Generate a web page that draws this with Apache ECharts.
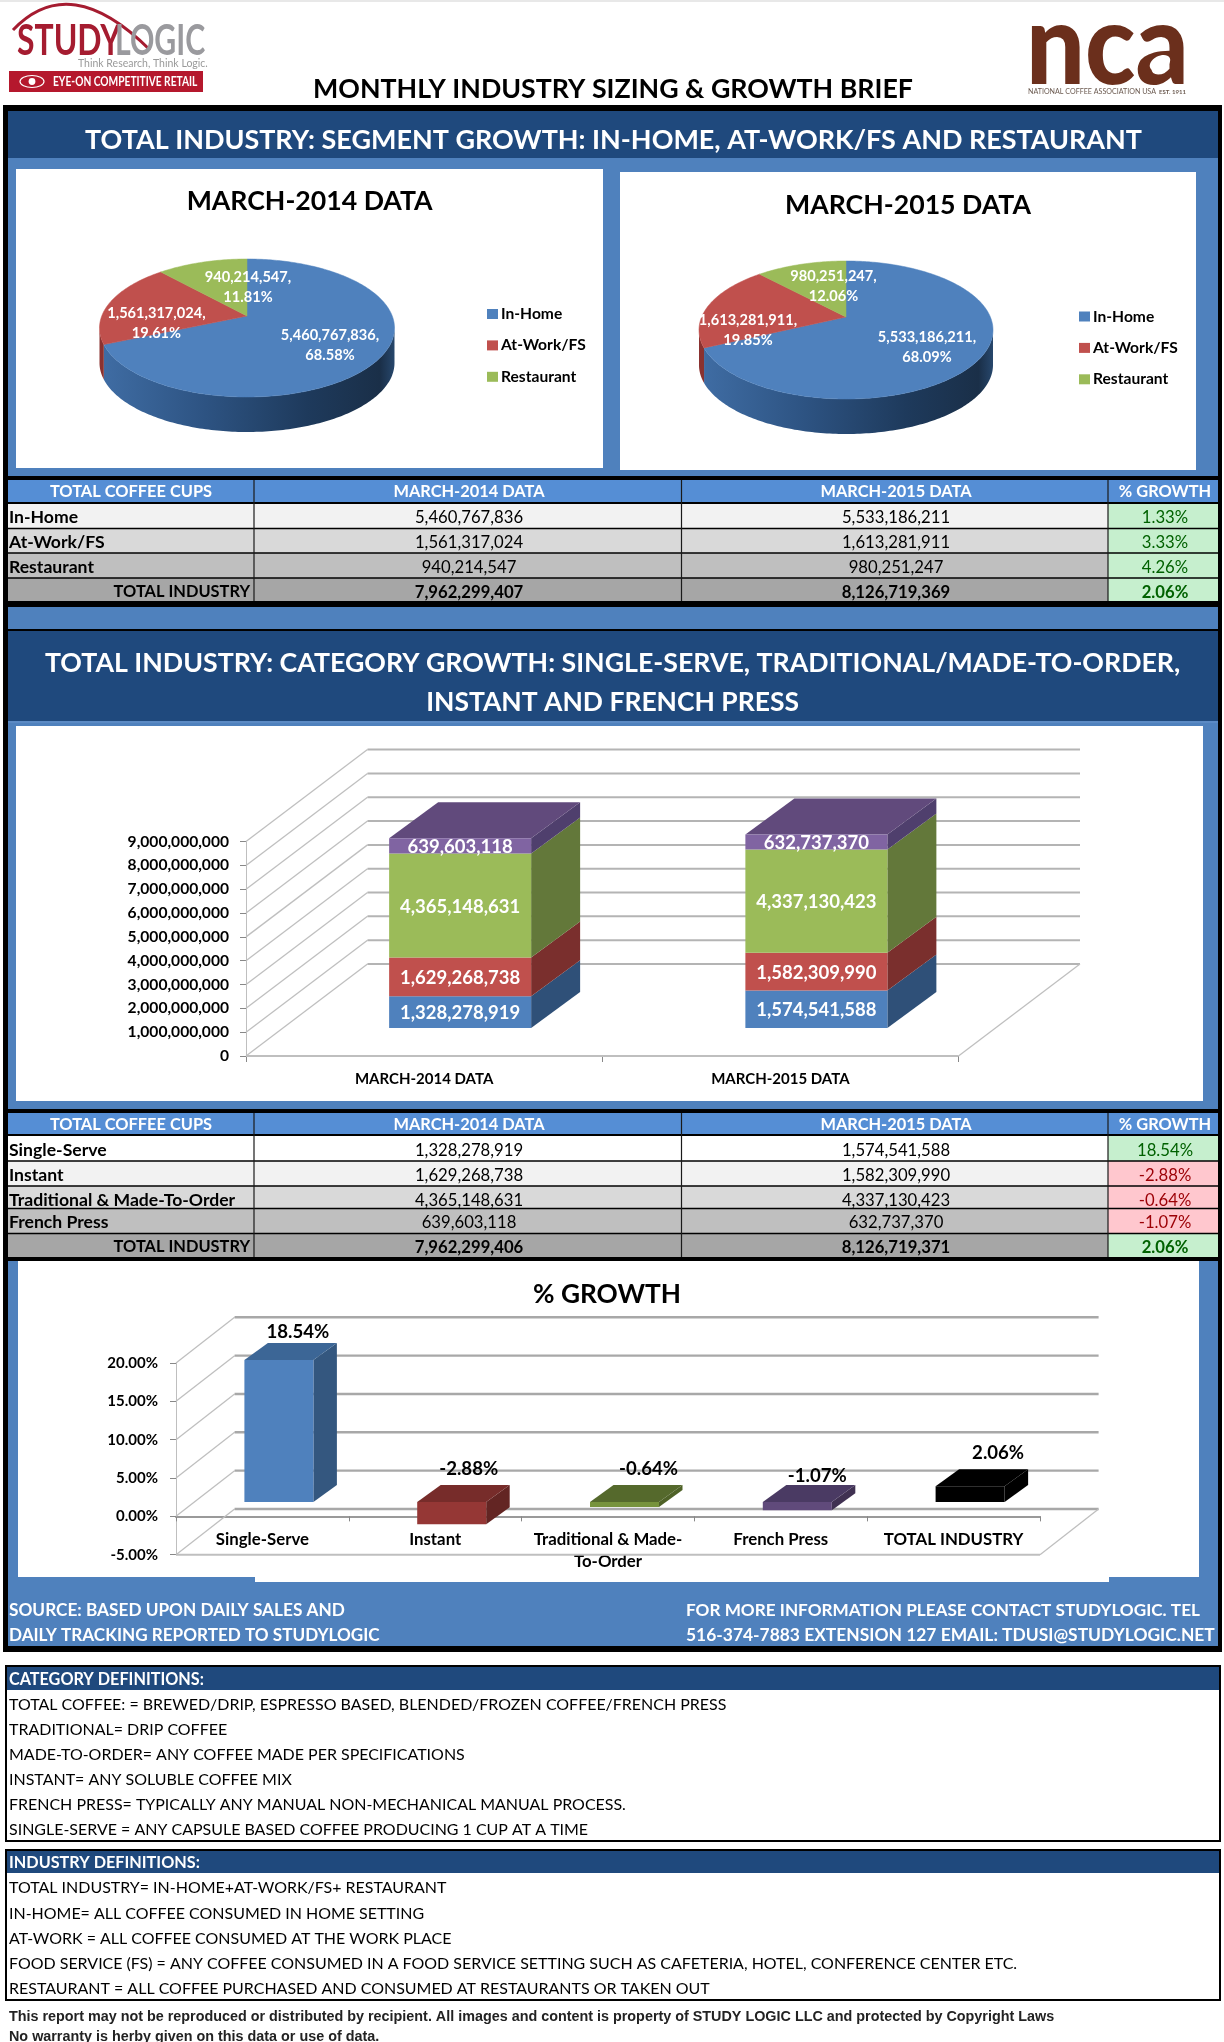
<!DOCTYPE html>
<html><head><meta charset="utf-8">
<style>html,body{margin:0;padding:0;background:#fff;overflow:hidden}#c{width:1224px;height:2042px}</style>
<script src="https://cdn.jsdelivr.net/npm/echarts@6/dist/echarts.min.js"></script>
</head><body><div id="c"></div>
<script>
// ---------- data ----------
const segmentNames = ['In-Home', 'At-Work/FS', 'Restaurant'];
const segments2014 = [5460767836, 1561317024, 940214547];
const segments2015 = [5533186211, 1613281911, 980251247];
const segmentPct2014 = ['68.58%', '19.61%', '11.81%'];
const segmentPct2015 = ['68.09%', '19.85%', '12.06%'];
const segmentGrowth = ['1.33%', '3.33%', '4.26%'];
const segmentTotals = [7962299407, 8126719369, '2.06%'];

const periods = ['MARCH-2014 DATA', 'MARCH-2015 DATA'];
const categoryNames = ['Single-Serve', 'Instant', 'Traditional & Made-To-Order', 'French Press'];
const categories2014 = [1328278919, 1629268738, 4365148631, 639603118];
const categories2015 = [1574541588, 1582309990, 4337130423, 632737370];
const categoryGrowth = ['18.54%', '-2.88%', '-0.64%', '-1.07%'];
const categoryTotals = [7962299406, 8126719371, '2.06%'];

const growthNames = ['Single-Serve', 'Instant', 'Traditional & Made-To-Order', 'French Press', 'TOTAL INDUSTRY'];
const growthValues = [18.54, -2.88, -0.64, -1.07, 2.06];

const categoryDefs = ['TOTAL COFFEE: = BREWED/DRIP, ESPRESSO BASED, BLENDED/FROZEN COFFEE/FRENCH PRESS','TRADITIONAL= DRIP COFFEE','MADE-TO-ORDER= ANY COFFEE MADE PER SPECIFICATIONS','INSTANT= ANY SOLUBLE COFFEE MIX','FRENCH PRESS= TYPICALLY ANY MANUAL NON-MECHANICAL MANUAL PROCESS.','SINGLE-SERVE = ANY CAPSULE BASED COFFEE PRODUCING 1 CUP AT A TIME'];
const industryDefs = ['TOTAL INDUSTRY= IN-HOME+AT-WORK/FS+ RESTAURANT','IN-HOME= ALL COFFEE CONSUMED IN HOME SETTING','AT-WORK = ALL COFFEE CONSUMED AT THE WORK PLACE','FOOD SERVICE (FS) = ANY COFFEE CONSUMED IN A FOOD SERVICE SETTING SUCH AS CAFETERIA, HOTEL, CONFERENCE CENTER ETC.','RESTAURANT = ALL COFFEE PURCHASED AND CONSUMED AT RESTAURANTS OR TAKEN OUT'];

// ---------- style helpers ----------
const FONT = 'Lato';
const NAVY = '#1F497D', BLUE = '#4F81BD', HEAD = '#558ED5';
const num = v => typeof v === 'number' ? v.toLocaleString('en-US') : v;
const mctx = document.createElement('canvas').getContext('2d');
function fit(text, width, weight, family) {
  mctx.font = (weight || 'normal') + ' 100px ' + (family || FONT);
  return 100 * width / mctx.measureText(text).width;
}
const els = [];
function rect(x, y, w, h, fill) { els.push({type:'rect', shape:{x,y,width:w,height:h}, style:{fill}, silent:true}); }
function txt(text, x, y, size, o) {
  o = o || {};
  const fam = o.family || FONT;
  els.push({type:'text', x, y:y+1.2, scaleX:o.sx||1, scaleY:o.sy||1, silent:true, style:{text, fill:o.fill||'#000',
    font:(o.weight||'normal')+' '+size.toFixed(2)+'px "'+fam+'"', align:o.align||'left', verticalAlign:'middle'}});
}
function fitTxt(text, x, y, w, o) { o = o||{}; txt(text, x, y, fit(text, w, o.weight, o.family), o); }

// ---------- page furniture ----------
rect(0,0,1224,2042,'#fff'); rect(0,0,1224,2,'#e8e8e8');
// StudyLogic logo
els.push({type:'bezierCurve', shape:{x1:13,y1:30,cpx1:70,cpy1:-30,x2:150,y2:50}, style:{stroke:'#a51c30',lineWidth:3,fill:null}, silent:true});
txt('STUDY', 17, 40, 42, {weight:'bold', fill:'#a51c30', sx:0.76});
txt('LOGIC', 115, 40, 42, {weight:'bold', fill:'#9a9a9e', sx:0.72});
txt('Think Research, Think Logic.', 78, 62.5, 10.5, {fill:'#9a9a9a'});
rect(9,71,194,21,'#b5182d');
els.push({type:'ellipse', shape:{cx:32,cy:81.5,rx:12,ry:6}, style:{fill:null,stroke:'#fff',lineWidth:1.2}, silent:true});
els.push({type:'circle', shape:{cx:32,cy:81.5,r:3.4}, style:{fill:'#fff'}, silent:true});
txt('EYE-ON COMPETITIVE RETAIL', 53, 81, fit('EYE-ON COMPETITIVE RETAIL', 185, 'bold'), {weight:'bold', fill:'#fff', sx:0.78});
// NCA logo
txt('nca', 1026, 47, 112, {weight:'900', fill:'#6b2f1c', sx:0.93});
els.push({type:'ellipse', shape:{cx:1160,cy:63,rx:11,ry:7}, rotation:0.5, originX:1160, originY:63, style:{fill:'#fff'}, silent:true});
fitTxt('NATIONAL COFFEE ASSOCIATION USA', 1028, 91, 128, {fill:'#6b5a50'});
fitTxt('EST. 1911', 1159, 91, 27, {weight:'bold', fill:'#6b5a50'});

fitTxt('MONTHLY INDUSTRY SIZING & GROWTH BRIEF', 613, 88, 600, {weight:'bold', align:'center'});

// outer frame and bands
rect(3,105,1219,1547,'#000');
rect(8,111,1210,47,NAVY);
rect(8,158,1210,318,BLUE);
fitTxt('TOTAL INDUSTRY: SEGMENT GROWTH: IN-HOME, AT-WORK/FS AND RESTAURANT', 613.5, 139, 1057, {weight:'bold', align:'center', fill:'#fff'});
rect(16,169,587,299,'#fff'); rect(620,172,576,298,'#fff');
fitTxt(periods[0], 309.6, 200.5, 246, {weight:'bold', align:'center'});
fitTxt(periods[1], 908, 204, 246, {weight:'bold', align:'center'});

rect(8,607,1210,22,BLUE);
rect(8,631,1210,90,NAVY); rect(8,721,1210,2,'#5b8ac4');
rect(8,723,1210,386,BLUE);
fitTxt('TOTAL INDUSTRY: CATEGORY GROWTH: SINGLE-SERVE, TRADITIONAL/MADE-TO-ORDER,', 612.6, 662, 1136, {weight:'bold', align:'center', fill:'#fff'});
fitTxt('INSTANT AND FRENCH PRESS', 612.6, 701.6, 373, {weight:'bold', align:'center', fill:'#fff'});
rect(16,726,1187,375,'#fff');

rect(8,1261,1210,385,BLUE);
rect(18,1261,1181,316,'#fff'); rect(255,1577,854,5,'#fff');
fitTxt('% GROWTH', 607, 1293, 148, {weight:'bold', align:'center'});

fitTxt('SOURCE: BASED UPON DAILY SALES AND', 9, 1609, 336, {weight:'bold', fill:'#fff'});
fitTxt('DAILY TRACKING REPORTED TO STUDYLOGIC', 9, 1634, 371, {weight:'bold', fill:'#fff'});
fitTxt('FOR MORE INFORMATION PLEASE CONTACT STUDYLOGIC. TEL', 686, 1609, 514, {weight:'bold', fill:'#fff'});
fitTxt('516-374-7883 EXTENSION 127 EMAIL: TDUSI@STUDYLOGIC.NET', 686, 1634, 529, {weight:'bold', fill:'#fff'});

// tables
const tblFont = 16.7;
function table(headY, headH, rowEdges, rowCenters, rowFills, labels, a, b, g, totals, headText) {
  rect(8, headY, 1210, headH, HEAD);
  const hs = ['TOTAL COFFEE CUPS', periods[0], periods[1], '% GROWTH'];
  [131, 469, 896, 1165].forEach((x,i) => txt(hs[i], x, headText, 16.4, {weight:'bold', align:'center', fill:'#fff'}));
  const n = labels.length;
  for (let r = 0; r <= n; r++) {
    const y0 = rowEdges[r], y1 = rowEdges[r+1], isT = r === n, gv = isT ? totals[2] : g[r];
    rect(8, y0, 1100, y1-y0, rowFills[r]);
    const neg = gv.charAt(0) === '-';
    rect(1108, y0, 110, y1-y0, neg ? '#FFC7CE' : '#C6EFCE');
    const w = isT ? 'bold' : 'normal';
    if (isT) txt('TOTAL INDUSTRY', 250, rowCenters[r], 16.4, {weight:'bold', align:'right'});
    else txt(labels[r], 9, rowCenters[r], 17.6, {weight:'bold'});
    txt(num(isT ? totals[0] : a[r]), 469, rowCenters[r], tblFont, {weight:w, align:'center'});
    txt(num(isT ? totals[1] : b[r]), 896, rowCenters[r], tblFont, {weight:w, align:'center'});
    txt(gv, 1165, rowCenters[r], tblFont, {weight:w, align:'center', fill: neg ? '#9C0006' : '#006100'});
    if (r) rect(8, y0-0.8, 1210, 1.6, '#000');
  }
  rect(8, rowEdges[0]-1, 1210, 2, '#000');
  [254, 681.5, 1108].forEach(x => rect(x-0.6, headY, 1.2, rowEdges[n+1]-headY, '#1a1a1a'));
}
table(480, 23, [503,528.5,553,578,601], [516,541,566,591], ['#F2F2F2','#D9D9D9','#BFBFBF','#A6A6A6'], segmentNames, segments2014, segments2015, segmentGrowth, segmentTotals, 491);
table(1113, 22, [1135,1161,1186,1208.5,1233.5,1257], [1149,1174,1199,1221,1246], ['#FFFFFF','#F2F2F2','#D9D9D9','#BFBFBF','#A6A6A6'], categoryNames, categories2014, categories2015, categoryGrowth, categoryTotals, 1124);

// definition boxes
function defBox(y0, y1, headEnd, title, titleW, lines, ys) {
  rect(5, y0, 1216, y1-y0, '#000');
  rect(7, y0+2, 1212, y1-y0-4, '#fff');
  rect(7, y0+2, 1212, headEnd-y0-2, NAVY);
  fitTxt(title, 9, (y0+2+headEnd)/2, titleW, {weight:'bold', fill:'#fff'});
  lines.forEach((t,i) => txt(t, 9, ys[i], defSize));
}
const defSize = fit(industryDefs[3], 1009);
defBox(1665, 1842, 1690, 'CATEGORY DEFINITIONS:', 195, categoryDefs, [1704,1729,1754,1779,1804,1829]);
defBox(1849, 2001, 1873, 'INDUSTRY DEFINITIONS:', 191, industryDefs, [1887,1913,1938,1963,1988]);
const fine = 'This report may not be reproduced or distributed by recipient. All images and content is property of STUDY LOGIC LLC and protected by Copyright Laws';
fitTxt(fine, 9, 2016, 1045, {weight:'bold', family:'Liberation Sans', fill:'#222'});
txt('No warranty is herby given on this data or use of data.', 9, 2036, fit(fine,1045,'bold','Liberation Sans'), {weight:'bold', family:'Liberation Sans', fill:'#222'});

// ---------- 3D pies (custom series, angles from values) ----------
const segColors = ['#4F81BD', '#C0504D', '#9BBB59'];
const blueWall = () => new echarts.graphic.LinearGradient(0,0,1,0,[{offset:0,color:'#3f6ca3'},{offset:.35,color:'#2d5382'},{offset:.7,color:'#1e3a5c'},{offset:.95,color:'#1a2f48'},{offset:1,color:'#27476c'}]);
const wallFill = [blueWall, () => '#8a3230', () => '#6f8a3c'];
function pieSeries(layout, values, pcts, labelPos) {
  const total = values.reduce((s,v)=>s+v,0);
  let cum = 0;
  return values.map((v,i) => {
    const start = cum/total; cum += v; const end = cum/total;
    return {
      type:'custom', name:segmentNames[i], coordinateSystem:'none', silent:true, z:3,
      itemStyle:{color:segColors[i]}, data:[[v, start, end]],
      renderItem(params, api) {
        const a0 = api.value(1)*360, a1 = api.value(2)*360, L = layout;
        const k = (L.ay-L.cy)/L.ry, top = [[L.cx,L.ay]], low = [];
        const n = Math.max(2, Math.ceil(a1-a0));
        for (let j = 0; j <= n; j++) {
          const a = (a0+(a1-a0)*j/n)*Math.PI/180, u = Math.sin(a), w = -Math.cos(a);
          const t = -k*w+Math.sqrt(k*k*w*w-k*k+1), ey = k+t*w;
          const p = [L.cx+L.rx*t*u, L.cy+L.ry*ey];
          top.push(p); if (ey >= 0) low.push(p);
        }
        const kids = [];
        if (low.length > 1) kids.push({type:'polygon', z2:1, shape:{points:low.concat(low.map(p=>[p[0],p[1]+L.depth]).reverse())}, style:{fill:wallFill[i]()}});
        kids.push({type:'polygon', z2:2, shape:{points:top}, style:{fill:segColors[i], stroke:segColors[i], lineWidth:0.5}});
        kids.push({type:'text', z2:5, style:{text:num(api.value(0))+',\n'+pcts[i], x:labelPos[i][0], y:labelPos[i][1], fill:'#fff', font:'bold 14.6px "'+FONT+'"', align:'center', verticalAlign:'middle', lineHeight:20}});
        return {type:'group', children:kids};
      }
    };
  });
}
const pie1 = {cx:247, cy:328, rx:147.5, ry:69, ay:316, depth:35};
const pie2 = {cx:846, cy:330, rx:147, ry:69, ay:317, depth:35};

// ---------- 3D frame shared by the two column charts ----------
function wallSeries(xI, yI, ticks, dx, dy, min, backColor, backWidth) {
  return {type:'custom', coordinateSystem:'cartesian2d', xAxisIndex:xI, yAxisIndex:yI, silent:true, z:1,
    data:ticks.map(v=>[0,v]),
    renderItem(params, api) {
      const g = params.coordSys, v = api.value(1), y = api.coord([0,v])[1], x = g.x, r = g.x+g.width;
      const kids = [
        {type:'line', shape:{x1:x,y1:y,x2:x+dx,y2:y-dy}, style:{stroke:'#BFBFBF',lineWidth:1.3}},
        {type:'line', shape:{x1:x+dx,y1:y-dy,x2:r+dx,y2:y-dy}, style:{stroke:backColor,lineWidth:backWidth}}
      ];
      if (v === min) {
        kids.push({type:'line', shape:{x1:x,y1:y,x2:r,y2:y}, style:{stroke:'#BFBFBF',lineWidth:2}});
        kids.push({type:'line', shape:{x1:r,y1:y,x2:r+dx,y2:y-dy}, style:{stroke:'#BFBFBF',lineWidth:1.3}});
      }
      return {type:'group', children:kids};
    }};
}
function faces(xr, xl, yLow, yHigh, dx, dy, side, top) {
  const kids = [{type:'polygon', shape:{points:[[xr,yLow],[xr+dx,yLow-dy],[xr+dx,yHigh-dy],[xr,yHigh]]}, style:{fill:side}}];
  if (top) kids.push({type:'polygon', shape:{points:[[xl,yHigh],[xl+dx,yHigh-dy],[xr+dx,yHigh-dy],[xr,yHigh]]}, style:{fill:top}});
  return {type:'group', children:kids};
}

// ---------- stacked column chart ----------
const stackColors = ['#4F81BD','#C0504D','#9BBB59','#8064A2'];
const stackSides = ['#2f5078','#7a2f2d','#63783a','#4f3f6d'];
const stackTop = '#614a7c';
const billionTicks = [0,1,2,3,4,5,6,7,8,9].map(v=>v*1e9);
const stackDepth = [];
[categories2014, categories2015].forEach((col,c) => {
  let lo = 0;
  col.forEach((v,s) => { stackDepth.push([c, lo, lo+v, s]); lo += v; });
});
const stackSeries = categoryNames.map((name,s) => ({
  type:'bar', name, stack:'cups', xAxisIndex:1, yAxisIndex:1, barWidth:142, silent:true, z:3,
  itemStyle:{color:stackColors[s]},
  label:{show:true, position:'inside', offset:[0,1], color:'#fff', fontFamily:FONT, fontWeight:'bold', fontSize:18.5, formatter:p=>num(p.value)},
  data:[categories2014[s], categories2015[s]]
}));
const stackDepthSeries = {type:'custom', coordinateSystem:'cartesian2d', xAxisIndex:1, yAxisIndex:1, silent:true, z:2,
  data:stackDepth, encode:{x:0,y:[1,2]},
  renderItem(params, api) {
    const c = api.value(0), s = api.value(3);
    const a = api.coord([c, api.value(1)]), b = api.coord([c, api.value(2)]);
    return faces(a[0]+71, a[0]-71, a[1], b[1], 49, 36, stackSides[s], s === 3 ? stackTop : null);
  }};

// ---------- growth column chart ----------
const growthFront = ['#4F81BD','#953735','#77933C','#604A7B','#000000'];
const growthSide = ['#34577f','#632523','#4F6228','#403152','#000000'];
const growthTop = ['#3c6696','#772c2a','#55692c','#4a3a63','#000000'];
const growthLabelOffset = [[19,-13],[17,-19],[24,-19],[20,-12],[28,-19]];
const growthBars = {type:'bar', name:'% GROWTH', xAxisIndex:3, yAxisIndex:3, barWidth:69, silent:true, z:3,
  data:growthValues.map((v,i)=>({value:v, itemStyle:{color:growthFront[i]},
    label:{show:true, position:'top', offset:growthLabelOffset[i], color:'#000', fontFamily:FONT, fontWeight:'bold', fontSize:18.6, formatter:p=>p.value.toFixed(2)+'%'}}))};
const growthDepth = {type:'custom', coordinateSystem:'cartesian2d', xAxisIndex:3, yAxisIndex:3, silent:true, z:2,
  data:growthValues.map((v,i)=>[i,v]), encode:{x:0,y:1},
  renderItem(params, api) {
    const i = api.value(0), v = api.value(1);
    const a = api.coord([i, Math.min(v,0)]), b = api.coord([i, Math.max(v,0)]);
    return faces(a[0]+34.5, a[0]-34.5, a[1], b[1], 23.5, 17, growthSide[i], growthTop[i]);
  }};

// ---------- option ----------
const axisText = {color:'#000', fontFamily:FONT, fontWeight:'bold'};
const hiddenX = (cats, g) => ({type:'category', gridIndex:g, data:cats, show:false});
const hiddenY = (min,max,g) => ({type:'value', gridIndex:g, min, max, show:false, splitLine:{show:false}});
const legendOf = (left, top) => ({data:segmentNames, orient:'vertical', left, top, padding:0, itemWidth:11, itemHeight:10, itemGap:15.4, icon:'rect', selectedMode:false,
  textStyle:{fontFamily:FONT, fontWeight:'bold', fontSize:15.6, color:'#000', lineHeight:16, padding:[0,0,0,-2]}});
const option = {
  animation:false, backgroundColor:'#fff',
  graphic:{elements:els},
  legend:[legendOf(487,306), legendOf(1079,308.5)],
  grid:[
    {left:246, top:841.6, width:712.5, height:214.4},
    {left:282, top:813.6, width:712.5, height:214.4},
    {left:176, top:1363, width:864, height:191.7},
    {left:192.5, top:1348.7, width:864, height:191.7}
  ],
  xAxis:[
    {type:'category', gridIndex:0, data:periods, axisLine:{lineStyle:{color:'#BFBFBF',width:1}}, axisTick:{show:true,length:6,lineStyle:{color:'#888'}},
      axisLabel:{...axisText, fontSize:15, margin:16, interval:0}},
    hiddenX(periods,1),
    {type:'category', gridIndex:2, data:growthNames, axisLine:{onZero:true,lineStyle:{color:'#9a9a9a',width:2}}, axisTick:{show:true,length:5,lineStyle:{color:'#888'}},
      axisLabel:{...axisText, fontSize:16.8, margin:-26, interval:0, lineHeight:22, formatter:s=>s.replace('Made-To','Made-\nTo')}},
    hiddenX(growthNames,3)
  ],
  yAxis:[
    {type:'value', gridIndex:0, min:0, max:9e9, interval:1e9, axisLine:{show:true,lineStyle:{color:'#BFBFBF'}}, axisTick:{show:true,length:6,lineStyle:{color:'#888'}}, splitLine:{show:false},
      axisLabel:{...axisText, fontSize:15.6, margin:17, padding:[2,0,0,0], formatter:v=>num(v)}},
    hiddenY(0,9e9,1),
    {type:'value', gridIndex:2, min:-5, max:20, interval:5, axisLine:{show:true,lineStyle:{color:'#BFBFBF'}}, axisTick:{show:true,length:6,lineStyle:{color:'#888'}}, splitLine:{show:false},
      axisLabel:{...axisText, fontSize:15, margin:18, padding:[2,0,0,0], formatter:v=>v.toFixed(2)+'%'}},
    hiddenY(-5,20,3)
  ],
  series:[
    ...pieSeries(pie1, segments2014, segmentPct2014, [[330,345],[156.4,323.5],[248,287.5]]),
    ...pieSeries(pie2, segments2015, segmentPct2015, [[927,347],[748,330],[833.5,286]]),
    wallSeries(0,0,billionTicks,121.5,92,0,'#B4B4B4',2),
    stackDepthSeries, ...stackSeries,
    wallSeries(2,2,[-5,0,5,10,15,20],58.6,45.7,-5,'#A8A8A8',2.4),
    growthDepth, growthBars
  ]
};
const chart = echarts.init(document.getElementById('c'), null, {renderer:'canvas', width:1224, height:2042});
chart.setOption(option);
</script></body></html>
